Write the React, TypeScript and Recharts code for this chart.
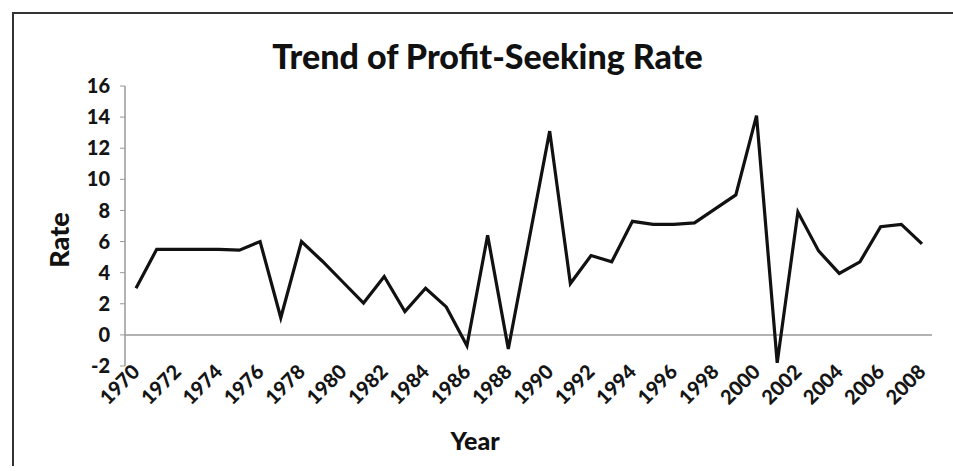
import { LineChart, Line, XAxis, YAxis, ReferenceLine } from "recharts";

// Years on the category axis
const years = [
  "1970", "1971", "1972", "1973", "1974", "1975", "1976", "1977", "1978", "1979",
  "1980", "1981", "1982", "1983", "1984", "1985", "1986", "1987", "1988", "1989",
  "1990", "1991", "1992", "1993", "1994", "1995", "1996", "1997", "1998", "1999",
  "2000", "2001", "2002", "2003", "2004", "2005", "2006", "2007", "2008",
];

// Profit-seeking rate
const rates = [
  3.0, 5.5, 5.5, 5.5, 5.5, 5.45, 6.0, 1.1, 6.0, 4.75,
  3.4, 2.05, 3.75, 1.5, 3.0, 1.8, -0.7, 6.4, -0.9, 6.1,
  13.1, 3.3, 5.1, 4.7, 7.3, 7.1, 7.1, 7.2, 8.1, 9.0,
  14.1, -1.8, 7.9, 5.4, 3.95, 4.7, 6.95, 7.1, 5.85,
];

const yTicks = [-2, 0, 2, 4, 6, 8, 10, 12, 14, 16];

const data = years.map((year, i) => ({ year, rate: rates[i] }));

const FONT = "Lato, 'Liberation Sans', sans-serif";

const YearTick = ({ x, y, payload }: any) => (
  <text
    x={x + 5}
    y={y + 5}
    transform={`rotate(-45 ${x + 5} ${y + 5})`}
    textAnchor="end"
    fontFamily={FONT}
    fontWeight={900}
    fontSize={20}
    fill="#151515"
  >
    {payload.value}
  </text>
);

export default function App() {
  return (
    <div style={{ position: "absolute", left: 0, top: 0, width: 953, height: 471, background: "#fff", fontFamily: FONT }}>
      <div
        style={{
          position: "absolute",
          left: 12,
          top: 12,
          width: 941,
          height: 452,
          borderLeft: "2px solid #333",
          borderTop: "2px solid #333",
        }}
      />
      <LineChart width={953} height={471} data={data} margin={{ top: 86, right: 21, bottom: 75, left: 65 }}>
        <XAxis
          dataKey="year"
          height={30}
          interval={1}
          axisLine={false}
          tickLine={false}
          tickSize={0}
          tick={<YearTick />}
          padding={{ left: 11, right: 10 }}
        />
        <YAxis
          width={60}
          domain={[-2, 16]}
          ticks={yTicks}
          interval={0}
          axisLine={{ stroke: "#999", strokeWidth: 1.5 }}
          tickLine={{ stroke: "#999" }}
          tickSize={5}
          tickMargin={10}
          tick={{ fill: "#151515", fontSize: 20, fontWeight: 900, fontFamily: FONT }}
        />
        <ReferenceLine y={0} stroke="#999" strokeWidth={1.5} />
        <Line
          type="linear"
          dataKey="rate"
          stroke="#111"
          strokeWidth={3.2}
          dot={false}
          isAnimationActive={false}
        />
      </LineChart>
      <div
        style={{
          position: "absolute",
          left: 0,
          width: 975,
          top: 37,
          textAlign: "center",
          fontSize: 34,
          fontWeight: 900,
          color: "#111",
          lineHeight: "38px",
        }}
      >
        Trend of Profit-Seeking Rate
      </div>
      <div
        style={{
          position: "absolute",
          left: 0,
          width: 950,
          top: 425,
          textAlign: "center",
          fontSize: 25,
          fontWeight: 900,
          color: "#111",
          lineHeight: "30px",
        }}
      >
        Year
      </div>
      <div
        style={{
          position: "absolute",
          left: 59,
          top: 240,
          transform: "translate(-50%, -50%) rotate(-90deg)",
          fontSize: 27,
          fontWeight: 900,
          color: "#111",
          lineHeight: "30px",
        }}
      >
        Rate
      </div>
    </div>
  );
}
